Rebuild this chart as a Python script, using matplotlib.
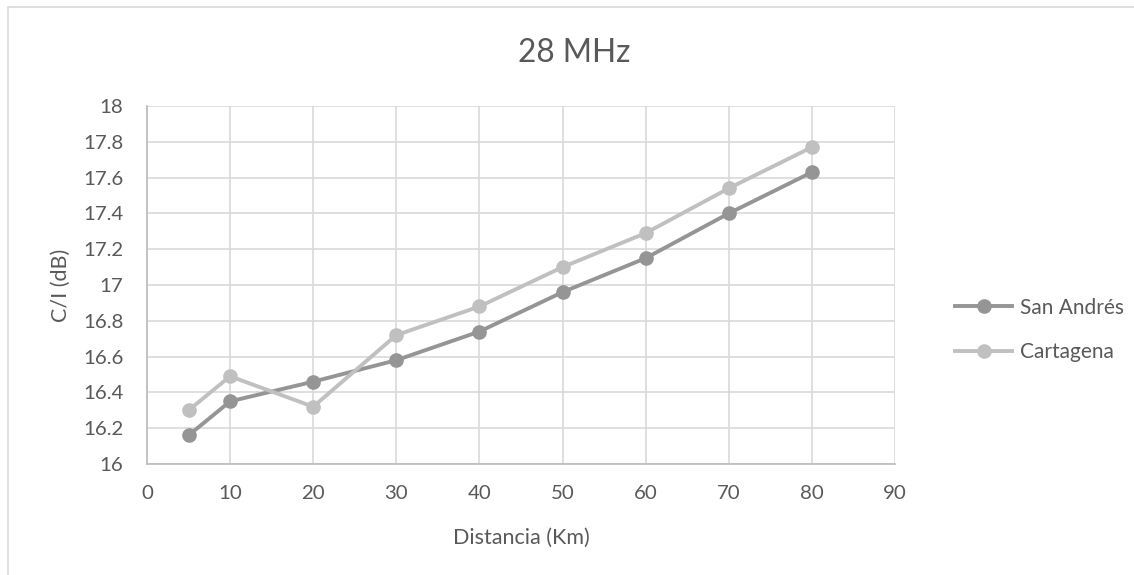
import matplotlib
matplotlib.use("Agg")
import matplotlib.pyplot as plt
from matplotlib.lines import Line2D
from matplotlib.patches import Rectangle

plt.rcParams['font.family'] = ['Lato', 'DejaVu Sans']

distancia = [5, 10, 20, 30, 40, 50, 60, 70, 80]
san_andres = [16.16, 16.35, 16.46, 16.58, 16.74, 16.96, 17.15, 17.40, 17.63]
cartagena = [16.30, 16.49, 16.32, 16.72, 16.88, 17.10, 17.29, 17.54, 17.77]
series_names = ['San Andrés', 'Cartagena']
series_colors = ['#959595', '#c0c0c0']

x_ticks = list(range(0, 91, 10))
y_ticks = [16 + 0.2 * i for i in range(11)]

W, H = 1134, 575
text_color = '#595959'

fig = plt.figure(figsize=(W / 100, H / 100), dpi=100)
ax = fig.add_axes([147 / W, 1 - 464 / H, (895 - 147) / W, (464 - 106) / H])

# chart area border (runs off the right and bottom edges)
fig.patches.append(Rectangle((8 / W, -0.1), 1.1, 1 - 7 / H + 0.1, transform=fig.transFigure,
                             fill=False, edgecolor='#d9d9d9', linewidth=1.2))

for vals, name, col in zip([san_andres, cartagena], series_names, series_colors):
    ax.plot(distancia, vals, color=col, linewidth=2.8, marker='o', markersize=9.5,
            label=name, zorder=3)

ax.set_xlim(0, 90)
ax.set_ylim(16, 18)
ax.set_xticks(x_ticks)
ax.set_yticks(y_ticks)
ax.set_yticklabels(['%g' % round(v, 1) for v in y_ticks])
ax.grid(True, color='#d9d9d9', linewidth=1.2)
ax.set_axisbelow(True)
for s in ['top', 'right']:
    ax.spines[s].set_visible(False)
for s in ['left', 'bottom']:
    ax.spines[s].set_color('#bfbfbf')
    ax.spines[s].set_linewidth(1.3)
ax.tick_params(length=0, labelsize=14.7, labelcolor=text_color)
ax.tick_params(axis='y', pad=17)
ax.tick_params(axis='x', pad=15)

ax.set_xlabel('Distancia (Km)', fontsize=15.5, color=text_color, labelpad=18.5)
ax.set_ylabel('C/I (dB)', fontsize=15.5, color=text_color, labelpad=8.5)

fig.text(574 / W, 1 - 53 / H, '28 MHz', ha='center', va='center', fontsize=22.8, color=text_color)

handles = [Line2D([], [], color=c, linewidth=2.8, marker='o', markersize=9.5) for c in series_colors]
fig.legend(handles, series_names, loc='center left', bbox_to_anchor=(955 / W, 1 - 330 / H),
           frameon=False, fontsize=15, handlelength=2.75, handletextpad=0.35,
           labelspacing=1.2, borderpad=0, borderaxespad=0, labelcolor=text_color)

fig.savefig('out.png', dpi=100)
